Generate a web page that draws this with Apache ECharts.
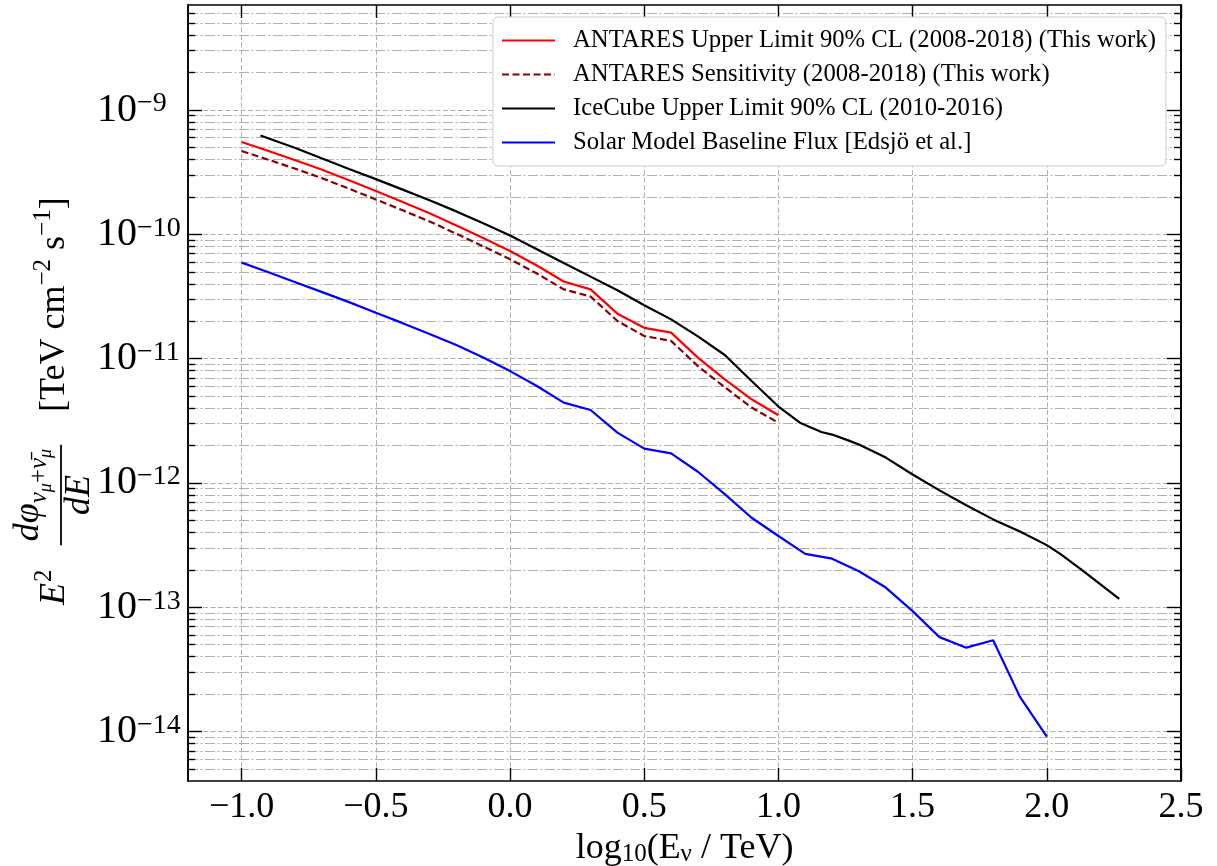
<!DOCTYPE html>
<html>
<head>
<meta charset="utf-8">
<title>ANTARES / IceCube solar neutrino flux limits</title>
<script src="https://cdn.jsdelivr.net/npm/echarts@6/dist/echarts.min.js"></script>
<style>
  html, body { margin: 0; padding: 0; background: #fff; }
  #chart { width: 1217px; height: 866px; }
</style>
</head>
<body>
<div id="chart"></div>
<script>
// x: log10(E / TeV), y: E^2 dphi/dE in TeV cm^-2 s^-1
var antaresLogE = [-1.0, -0.9, -0.8, -0.7, -0.6, -0.5, -0.4, -0.3, -0.2, -0.1, 0.0,
    0.1, 0.2, 0.3, 0.4, 0.5, 0.6, 0.7, 0.8, 0.9, 1.0];
var antaresLimit = [5.53e-10, 4.68e-10, 3.94e-10, 3.31e-10, 2.72e-10, 2.23e-10, 1.82e-10, 1.48e-10, 1.18e-10, 9.33e-11, 7.35e-11,
    5.62e-11, 4.17e-11, 3.61e-11, 2.30e-11, 1.77e-11, 1.62e-11, 1.02e-11, 6.81e-12, 4.71e-12, 3.50e-12];
var antaresSens = [4.68e-10, 3.98e-10, 3.37e-10, 2.83e-10, 2.33e-10, 1.91e-10, 1.56e-10, 1.27e-10, 1.01e-10, 8.0e-11, 6.30e-11,
    4.84e-11, 3.61e-11, 3.16e-11, 2.01e-11, 1.52e-11, 1.39e-11, 8.71e-12, 5.89e-12, 4.04e-12, 3.05e-12];

var icecubeLogE = [-0.93, -0.8, -0.7, -0.6, -0.5, -0.4, -0.3, -0.2, -0.1, 0.0, 0.1, 0.2, 0.3, 0.4, 0.5, 0.6, 0.7, 0.8, 0.9, 1.0,
    1.08, 1.16, 1.2, 1.26, 1.3, 1.4, 1.5, 1.6, 1.7, 1.8, 1.9, 2.0, 2.05, 2.13, 2.27];
var icecubeLimit = [6.24e-10, 4.95e-10, 4.07e-10, 3.36e-10, 2.78e-10, 2.29e-10, 1.88e-10, 1.53e-10, 1.23e-10, 9.77e-11,
    7.59e-11, 5.89e-11, 4.57e-11, 3.55e-11, 2.69e-11, 2.07e-11, 1.51e-11, 1.07e-11, 6.61e-12, 4.12e-12,
    3.05e-12, 2.57e-12, 2.45e-12, 2.20e-12, 2.04e-12, 1.60e-12, 1.17e-12, 8.71e-13, 6.61e-13, 5.09e-13,
    4.07e-13, 3.16e-13, 2.69e-13, 2.0e-13, 1.17e-13];

var solarLogE = [-1.0, -0.9, -0.8, -0.7, -0.6, -0.5, -0.4, -0.3, -0.2, -0.1, 0.0, 0.1, 0.2, 0.3, 0.4, 0.5,
    0.6, 0.7, 0.8, 0.9, 1.0, 1.1, 1.2, 1.3, 1.4, 1.5, 1.6, 1.7, 1.8, 1.9, 2.0];
var solarFlux = [5.92e-11, 4.95e-11, 4.12e-11, 3.43e-11, 2.85e-11, 2.34e-11, 1.93e-11, 1.58e-11, 1.29e-11, 1.02e-11,
    7.94e-12, 6.03e-12, 4.43e-12, 3.86e-12, 2.54e-12, 1.89e-12, 1.73e-12, 1.23e-12, 8.13e-13, 5.25e-13,
    3.74e-13, 2.69e-13, 2.46e-13, 1.95e-13, 1.44e-13, 9.31e-14, 5.75e-14, 4.73e-14, 5.42e-14, 1.90e-14, 9.12e-15];

var seriesNames = [
    'ANTARES Upper Limit 90% CL (2008-2018) (This work)',
    'ANTARES Sensitivity (2008-2018) (This work)',
    'IceCube Upper Limit 90% CL (2010-2016)',
    'Solar Model Baseline Flux [Edsjö et al.]'
];

var xTicks = [-1.0, -0.5, 0.0, 0.5, 1.0, 1.5, 2.0, 2.5];
var xRange = [-1.2, 2.5];
var yRange = [4e-15, 7e-9];
var yDecades = [-14, -13, -12, -11, -10, -9];
var yMinorMult = [2, 3, 4, 5, 6, 7, 8, 9];

var FONT = 'Liberation Serif';
var GRID_GRAY = '#b0b0b0';

// the y scale is drawn in log10 space
var yLo = Math.log10(yRange[0]);
var yHi = Math.log10(yRange[1]);
var yMinor = [];
for (var n = -15; n <= -9; n++) {
    yMinorMult.forEach(function (k) {
        var v = n + Math.log10(k);
        if (v > yLo + 1e-6 && v < yHi - 1e-6) yMinor.push(v);
    });
}

function pairs(xs, ys) {
    return xs.map(function (x, i) { return [x, Math.log10(ys[i])]; });
}

function minusFmt(v) {
    return (v < 0 ? '\u2212' : '') + Math.abs(v).toFixed(1);
}

function yAxisDef(pos, ticks, len, withLabel, split) {
    return {
        type: 'value', position: pos, min: yLo, max: yHi,
        axisLine: { show: true, onZero: false, lineStyle: { color: '#000', width: 1.6 } },
        axisTick: { show: true, inside: true, length: len, customValues: ticks, lineStyle: { color: '#000', width: 1.4 } },
        axisLabel: withLabel ? {
            show: true, customValues: ticks, margin: 91, align: 'left',
            formatter: function (v) {
                var e = Math.round(v);
                return '{b|10}{s|' + (e < 0 ? '\u2212' : '') + Math.abs(e) + '}';
            },
            rich: {
                b: { fontFamily: FONT, fontSize: 40, color: '#000', lineHeight: 40, padding: [6, 0, 0, 0], verticalAlign: 'bottom' },
                s: { fontFamily: FONT, fontSize: 28, color: '#000', lineHeight: 28, verticalAlign: 'top' }
            }
        } : { show: false },
        splitLine: split ? { show: true, lineStyle: { color: GRID_GRAY, width: 1, type: split } } : { show: false }
    };
}

function xAxisDef(pos, withLabel) {
    return {
        type: 'value', position: pos, min: xRange[0], max: xRange[1],
        axisLine: { show: true, onZero: false, lineStyle: { color: '#000', width: 1.6 } },
        axisTick: { show: true, inside: true, length: 13, customValues: xTicks, lineStyle: { color: '#000', width: 1.4 } },
        axisLabel: withLabel ? {
            show: true, customValues: xTicks, margin: 9, formatter: minusFmt,
            fontFamily: FONT, fontSize: 36, color: '#000'
        } : { show: false },
        splitLine: withLabel ? { show: true, lineStyle: { color: GRID_GRAY, width: 1, type: [5, 2.5] } } : { show: false },
        name: withLabel ? '{n|log}{s|10}{n|(E}{s|\u03bd}{n| / TeV)}' : '',
        nameLocation: 'middle', nameGap: 47,
        nameTextStyle: {
            rich: {
                n: { fontFamily: FONT, fontSize: 36, color: '#000', lineHeight: 36, padding: [0, 0, 6, 0], verticalAlign: 'top' },
                s: { fontFamily: FONT, fontSize: 25, color: '#000', lineHeight: 25, verticalAlign: 'bottom' }
            }
        }
    };
}

// rotated y axis title, laid out run by run
var measureCtx = document.createElement('canvas').getContext('2d');
function runWidth(r) {
    measureCtx.font = (r.italic ? 'italic ' : '') + r.size + 'px "' + FONT + '"';
    return measureCtx.measureText(r.t).width;
}
function layRuns(runs, x0, out) {
    var x = x0;
    runs.forEach(function (r) {
        x += r.dx || 0;
        out.push({
            type: 'text', x: x, y: r.base - 0.32 * r.size,
            style: {
                text: r.t, fontFamily: FONT, fontSize: r.size, fontStyle: r.italic ? 'italic' : 'normal',
                fill: '#000', align: 'left', verticalAlign: 'middle'
            }
        });
        x += runWidth(r);
    });
    return x;
}
function runsWidth(runs) {
    return runs.reduce(function (s, r) { return s + (r.dx || 0) + runWidth(r); }, 0);
}

var titleEls = [];
layRuns([
    { t: 'E', size: 36, italic: true, base: 0 },
    { t: '2', size: 25, base: -14, dx: 1 }
], -205, titleEls);

var numRuns = [
    { t: 'd\u03c6', size: 36, italic: true, base: -26 },
    { t: '\u03bd', size: 25, italic: true, base: -19 },
    { t: '\u03bc', size: 18, italic: true, base: -14 },
    { t: '+', size: 25, base: -19 },
    { t: '\u03bd\u0304', size: 25, italic: true, base: -19 },
    { t: '\u03bc', size: 18, italic: true, base: -14 }
];
var denRuns = [{ t: 'dE', size: 36, italic: true, base: 25 }];
var barMid = -95;
var numW = runsWidth(numRuns), denW = runsWidth(denRuns);
var barLen = Math.max(numW, denW) + 8;
layRuns(numRuns, barMid - numW / 2, titleEls);
layRuns(denRuns, barMid - denW / 2, titleEls);
titleEls.push({
    type: 'line',
    shape: { x1: barMid - barLen / 2, y1: -5, x2: barMid + barLen / 2, y2: -5 },
    style: { stroke: '#000', lineWidth: 1.8 }
});
layRuns([
    { t: '[TeV cm', size: 36, base: 0 },
    { t: '\u22122', size: 25, base: -15 },
    { t: ' s', size: 36, base: 0 },
    { t: '\u22121', size: 25, base: -15 },
    { t: ']', size: 36, base: 0 }
], -12, titleEls);

var chart = echarts.init(document.getElementById('chart'), null, { renderer: 'canvas' });

chart.setOption({
    animation: false,
    backgroundColor: '#fff',
    grid: { left: 188, top: 5, right: 36, bottom: 85, containLabel: false, outerBoundsMode: 'none' },
    xAxis: [xAxisDef('bottom', true), xAxisDef('top', false)],
    yAxis: [
        yAxisDef('left', yDecades, 14, true, [5, 2.5]),
        yAxisDef('left', yMinor, 7, false, [10, 2.5, 2, 2.5]),
        yAxisDef('right', yDecades, 14, false, null),
        yAxisDef('right', yMinor, 7, false, null)
    ],
    legend: {
        left: 493, top: 17, orient: 'vertical',
        itemWidth: 53, itemHeight: 14, itemGap: 9,
        padding: [11, 10, 11, 8],
        backgroundColor: '#fff', borderColor: '#cccccc', borderWidth: 1, borderRadius: 5,
        itemStyle: { opacity: 0 },
        textStyle: { fontFamily: FONT, fontSize: 24.7, color: '#000', padding: [0, 0, 0, 13] },
        data: seriesNames
    },
    series: [
        {
            name: seriesNames[0], type: 'line', symbol: 'none', data: pairs(antaresLogE, antaresLimit),
            lineStyle: { color: '#ff0000', width: 2.2 }, itemStyle: { color: '#ff0000' }
        },
        {
            name: seriesNames[1], type: 'line', symbol: 'none', data: pairs(antaresLogE, antaresSens),
            lineStyle: { color: '#8b0000', width: 2.2, type: [7, 3.5] }, itemStyle: { color: '#8b0000' }
        },
        {
            name: seriesNames[2], type: 'line', symbol: 'none', data: pairs(icecubeLogE, icecubeLimit),
            lineStyle: { color: '#000000', width: 2.2 }, itemStyle: { color: '#000000' }
        },
        {
            name: seriesNames[3], type: 'line', symbol: 'none', data: pairs(solarLogE, solarFlux),
            lineStyle: { color: '#0000ff', width: 2.2 }, itemStyle: { color: '#0000ff' }
        }
    ],
    graphic: [{
        type: 'group', x: 66, y: 400, rotation: Math.PI / 2,
        children: titleEls
    }]
});
</script>
</body>
</html>
